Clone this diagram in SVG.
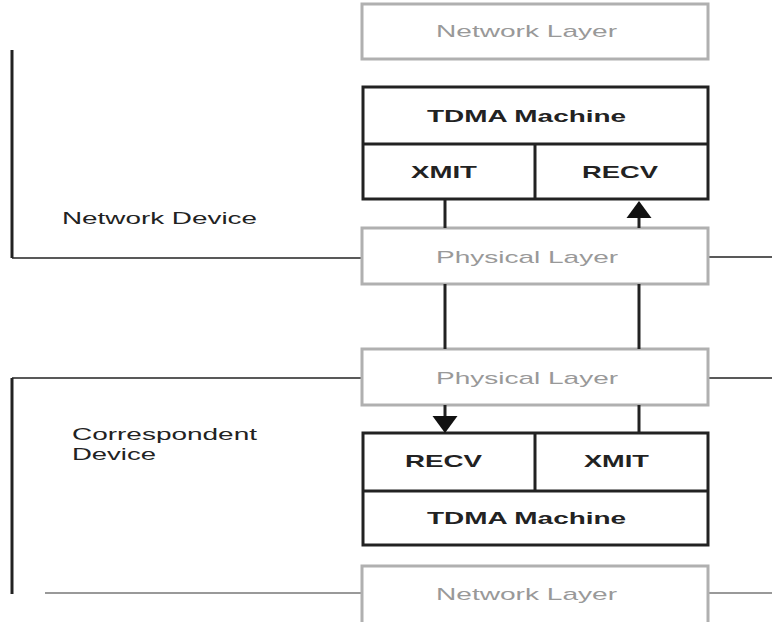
<svg xmlns="http://www.w3.org/2000/svg" width="772" height="622" viewBox="0 0 772 622">
  <defs>
    <style>
      .layer { fill: #ffffff; stroke: #b0b0b0; stroke-width: 3; }
      .layer-text { font-family: "Liberation Sans", Arial, sans-serif; font-size: 16px; fill: #999999; }
      .tdma { fill: #ffffff; stroke: #222222; stroke-width: 3; }
      .cell { stroke: #222222; stroke-width: 3; fill: none; }
      .bold-text { font-family: "Liberation Sans", Arial, sans-serif; font-size: 16.5px; font-weight: bold; fill: #222222; }
      .label { font-family: "Liberation Sans", Arial, sans-serif; font-size: 16px; fill: #222222; }
      .bracket { stroke: #222222; stroke-width: 3; fill: none; }
      .tie { stroke: #222222; stroke-width: 1.5; fill: none; }
      .tie-gray { stroke: #999999; stroke-width: 2; fill: none; }
      .link { stroke: #222222; stroke-width: 3; fill: none; }
      .head { fill: #111111; }
      /* text is set in a horizontally widened face: x and lengths are in the scaled space */
      .wide { transform: scale(1.7, 1); }
    </style>
  </defs>

  <!-- device brackets and tie lines -->
  <g id="brackets">
    <path class="bracket" d="M12 50 V258"/>
    <path class="tie" d="M12 258 H362"/>
    <path class="tie" d="M708 257 H772"/>
    <path class="bracket" d="M12 378 V594"/>
    <path class="tie" d="M12 378 H362"/>
    <path class="tie" d="M708 378 H772"/>
    <path class="tie-gray" d="M45 593 H362"/>
    <path class="tie-gray" d="M708 593 H772"/>
  </g>

  <!-- device labels -->
  <g id="label-network-device">
    <text class="label wide" x="36.47" y="224" textLength="114.7" lengthAdjust="spacingAndGlyphs">Network Device</text>
  </g>
  <g id="label-correspondent-device">
    <text class="label wide" x="42.35" y="440" textLength="108.8" lengthAdjust="spacingAndGlyphs">Correspondent</text>
    <text class="label wide" x="42.35" y="460" textLength="49.4" lengthAdjust="spacingAndGlyphs">Device</text>
  </g>

  <!-- upper stack -->
  <g id="network-layer-top">
    <rect class="layer" x="362" y="4" width="346" height="55"/>
    <text class="layer-text wide" x="256.47" y="37" textLength="106.5" lengthAdjust="spacingAndGlyphs">Network Layer</text>
  </g>
  <g id="tdma-top">
    <rect class="tdma" x="363" y="87" width="345" height="112"/>
    <path class="cell" d="M363 144 H708 M535 144 V199"/>
    <text class="bold-text wide" x="251.18" y="122" textLength="117.1" lengthAdjust="spacingAndGlyphs">TDMA Machine</text>
  </g>
  <g id="xmit-top">
    <text class="bold-text wide" x="241.76" y="178" textLength="38.8" lengthAdjust="spacingAndGlyphs">XMIT</text>
  </g>
  <g id="recv-top">
    <text class="bold-text wide" x="342.35" y="178" textLength="44.7" lengthAdjust="spacingAndGlyphs">RECV</text>
  </g>
  <g id="physical-layer-top">
    <rect class="layer" x="362" y="228" width="346" height="56"/>
    <text class="layer-text wide" x="256.47" y="263" textLength="107.1" lengthAdjust="spacingAndGlyphs">Physical Layer</text>
  </g>

  <!-- lower stack -->
  <g id="physical-layer-bottom">
    <rect class="layer" x="362" y="349" width="346" height="56"/>
    <text class="layer-text wide" x="256.47" y="384" textLength="107.1" lengthAdjust="spacingAndGlyphs">Physical Layer</text>
  </g>
  <g id="tdma-bottom">
    <rect class="tdma" x="363" y="433" width="345" height="112"/>
    <path class="cell" d="M363 491 H708 M535 433 V491"/>
    <text class="bold-text wide" x="251.18" y="524" textLength="117.1" lengthAdjust="spacingAndGlyphs">TDMA Machine</text>
  </g>
  <g id="recv-bottom">
    <text class="bold-text wide" x="238.24" y="467" textLength="45.3" lengthAdjust="spacingAndGlyphs">RECV</text>
  </g>
  <g id="xmit-bottom">
    <text class="bold-text wide" x="343.53" y="467" textLength="38.2" lengthAdjust="spacingAndGlyphs">XMIT</text>
  </g>
  <g id="network-layer-bottom">
    <rect class="layer" x="362" y="566" width="346" height="58"/>
    <text class="layer-text wide" x="256.47" y="600" textLength="106.5" lengthAdjust="spacingAndGlyphs">Network Layer</text>
  </g>

  <!-- signal paths -->
  <g id="connectors">
    <path class="link" d="M445 199 V228"/>
    <path class="link" d="M639 228 V216"/>
    <polygon class="head" points="639,201 626.5,218 651.5,218"/>
    <path class="link" d="M445 284 V349"/>
    <path class="link" d="M639 284 V349"/>
    <path class="link" d="M445 405 V418"/>
    <polygon class="head" points="445,433 432.5,416 457.5,416"/>
    <path class="link" d="M639 405 V433"/>
  </g>
</svg>
